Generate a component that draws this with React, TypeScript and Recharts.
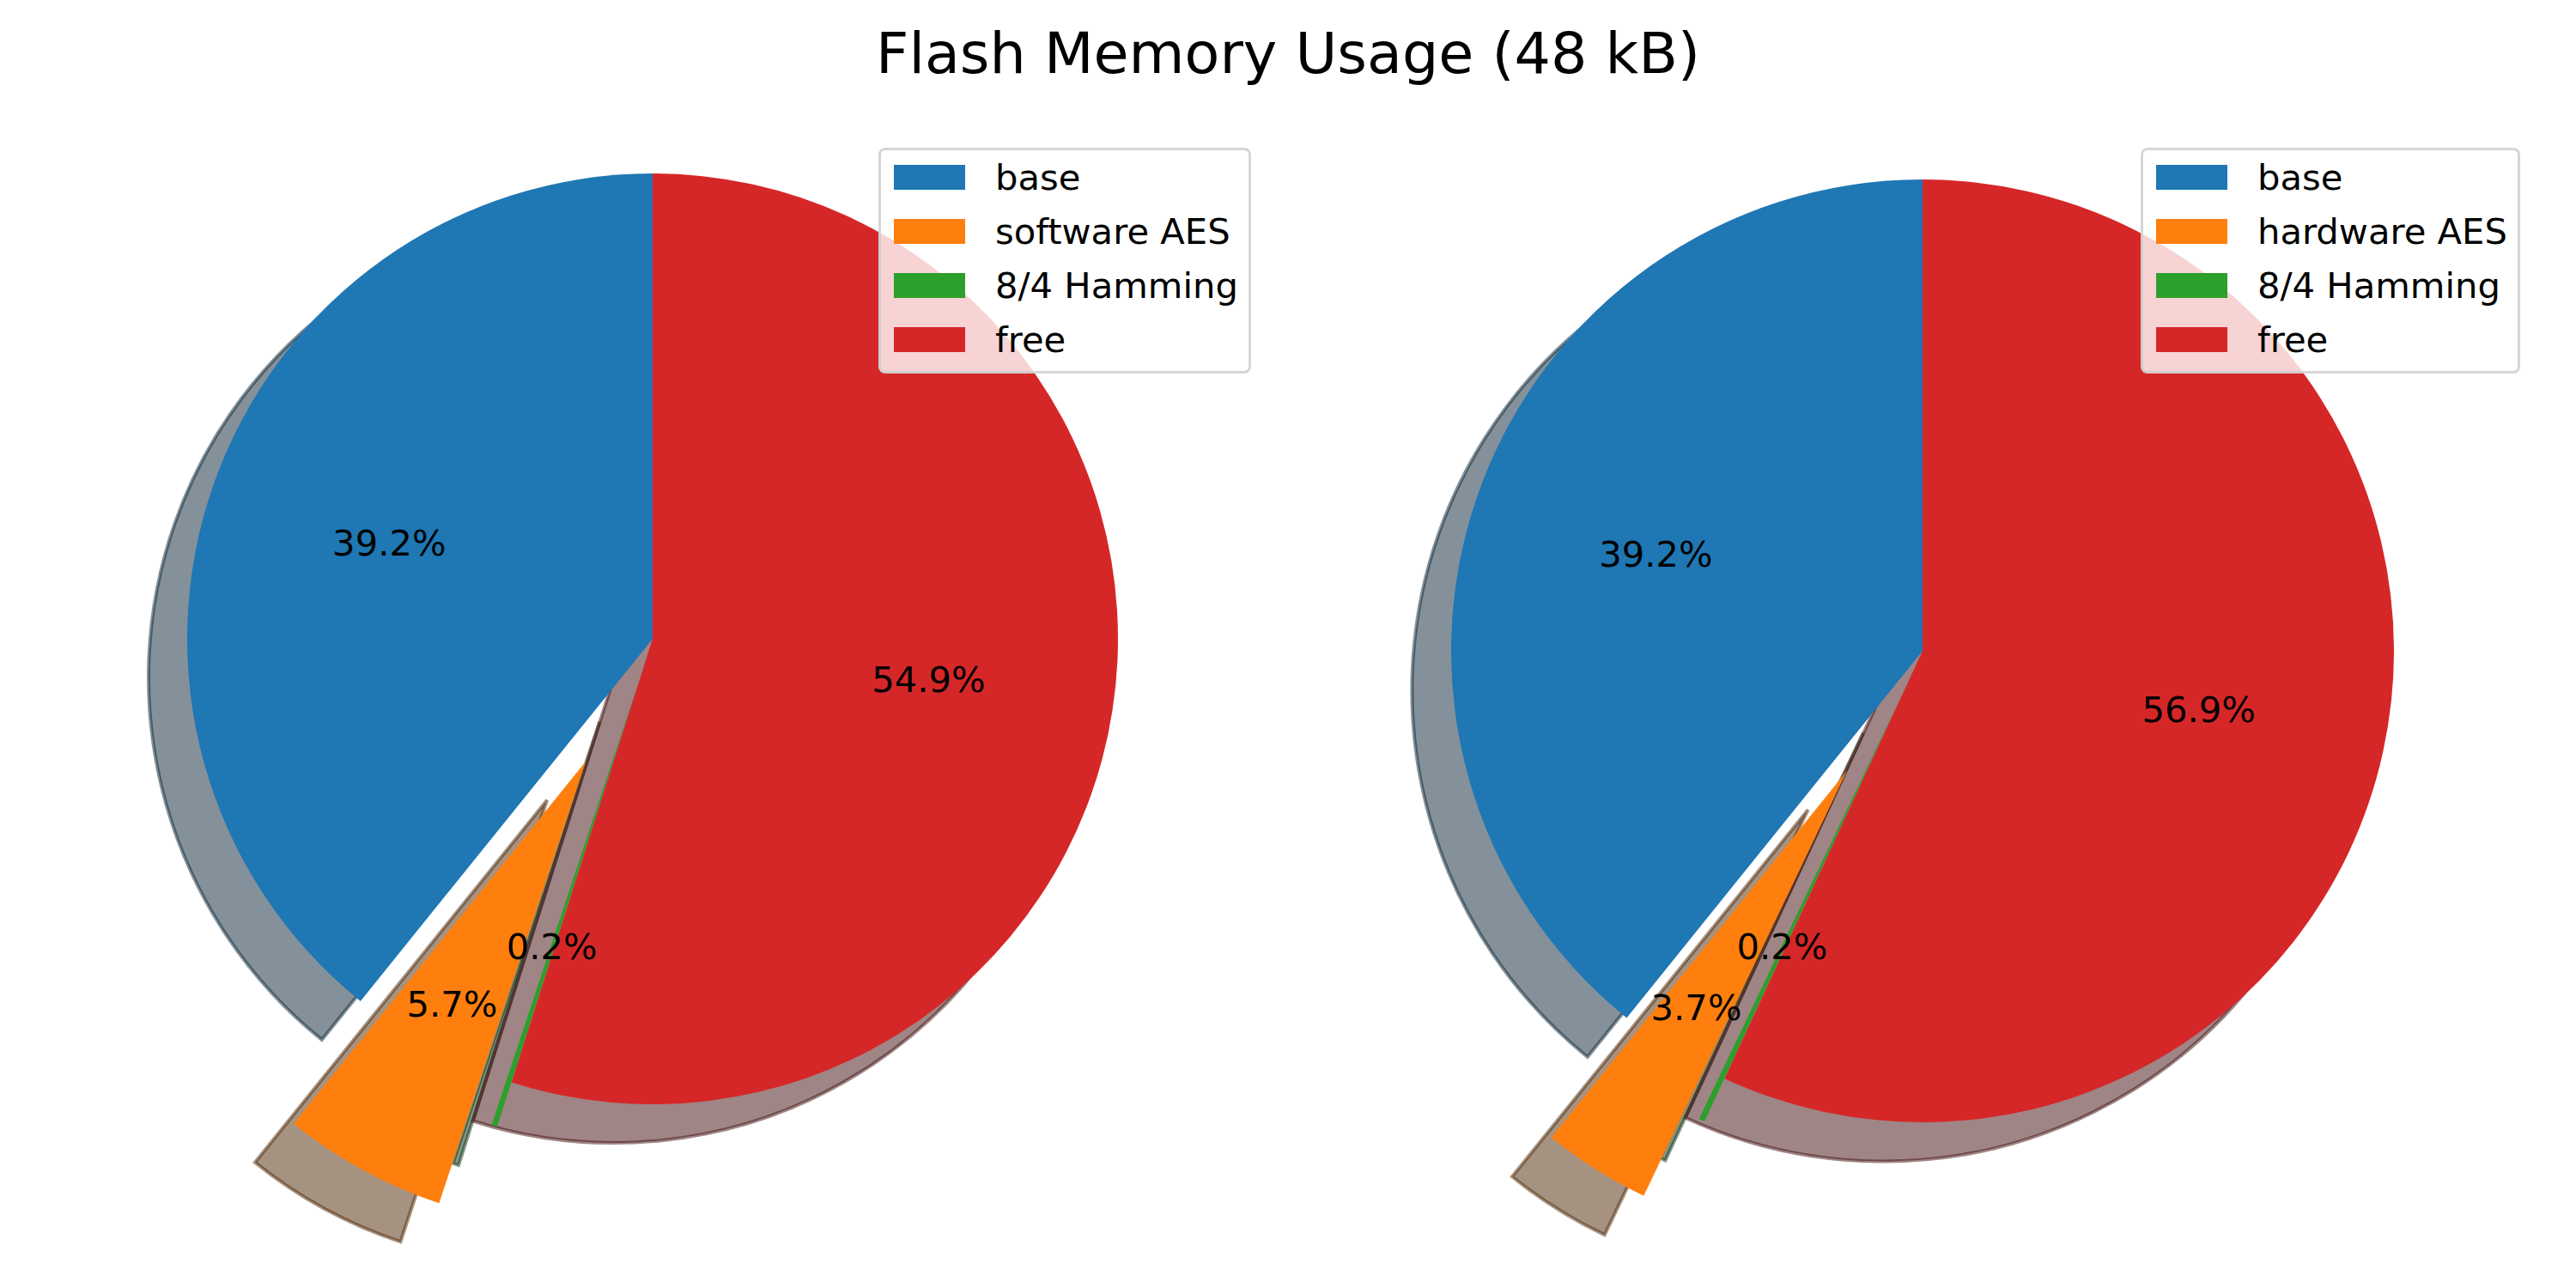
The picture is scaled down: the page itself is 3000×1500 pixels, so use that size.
import React from 'react';
import { PieChart, Pie, Cell, Legend } from 'recharts';

const FONT = '"DejaVu Sans", sans-serif';
const TEXT_SIZE = 41.7;

// share of the 48 kB flash, in percent
const softwareNames = ['base', 'software AES', '8/4 Hamming', 'free'];
const softwareShare = [39.2, 5.7, 0.2, 54.9];
const hardwareNames = ['base', 'hardware AES', '8/4 Hamming', 'free'];
const hardwareShare = [39.2, 3.7, 0.2, 56.9];
const explode = [0, 0.3, 0.1, 0];
const colors = ['#1f77b4', '#ff7f0e', '#2ca02c', '#d62728'];

// matplotlib shadow: 0.3 * face colour, drawn at alpha 0.5
const darken = (hex: string) => {
    const n = parseInt(hex.slice(1), 16);
    const r = Math.round(((n >> 16) & 255) * 0.3);
    const g = Math.round(((n >> 8) & 255) * 0.3);
    const b = Math.round((n & 255) * 0.3);
    return `rgb(${r},${g},${b})`;
};

// offset of an exploded slice along its mid angle
const explodeShift = (values: number[], i: number, radius: number) => {
    const total = values.reduce((a, b) => a + b, 0);
    const before = values.slice(0, i).reduce((a, b) => a + b, 0);
    const mid = ((90 + (360 * (before + values[i] / 2)) / total) * Math.PI) / 180;
    const d = explode[i] * radius;
    return { dx: d * Math.cos(mid), dy: -d * Math.sin(mid) };
};

const renderLabel = (props: any) => {
    const { cx, cy, midAngle, outerRadius, index, percent } = props;
    const r = (explode[index] + 0.6) * outerRadius;
    const rad = (midAngle * Math.PI) / 180;
    return (
        <text
            x={cx + r * Math.cos(rad)}
            y={cy - r * Math.sin(rad) + TEXT_SIZE * 0.28}
            textAnchor="middle"
            fill="#000"
            fontSize={TEXT_SIZE}
            fontFamily={FONT}
        >
            {(percent * 100).toFixed(1)}%
        </text>
    );
};

const LegendBox = ({ payload, order }: any) => {
    const seen = new Set<string>();
    const items = (payload || [])
        .filter((p: any) => {
            if (p.type === 'none' || seen.has(p.value)) return false;
            seen.add(p.value);
            return true;
        })
        .sort((a: any, b: any) => order.indexOf(a.value) - order.indexOf(b.value));
    return (
        <div
            style={{
                width: '100%',
                height: '100%',
                boxSizing: 'border-box',
                background: 'rgba(255,255,255,0.8)',
                border: '3.3px solid rgba(204,204,204,0.8)',
                borderRadius: 8,
                paddingLeft: 15,
                fontFamily: FONT,
                fontSize: TEXT_SIZE,
                color: '#000',
            }}
        >
            {items.map((item: any) => (
                <div key={item.value} style={{ height: 63, display: 'flex', alignItems: 'center' }}>
                    <div style={{ width: 83, height: 29, background: item.color, marginRight: 35 }} />
                    <span style={{ lineHeight: 'normal', whiteSpace: 'nowrap' }}>{item.value}</span>
                </div>
            ))}
        </div>
    );
};

interface PanelProps {
    names: string[];
    values: number[];
    cx: number;
    cy: number;
    radius: number;
    legendLeft: number;
    legendWidth: number;
}

const PiePanel: React.FC<PanelProps> = ({ names, values, cx, cy, radius, legendLeft, legendWidth }) => {
    const data = names.map((name, i) => ({ name, value: values[i] }));
    const shadow = radius * 0.083;

    return (
        <PieChart width={1500} height={1500} margin={{ top: 0, right: 0, bottom: 0, left: 0 }}>
            <Pie
                data={data}
                dataKey="value"
                nameKey="name"
                cx={cx - shadow}
                cy={cy + shadow}
                outerRadius={radius}
                startAngle={90}
                endAngle={450}
                stroke="none"
                legendType="none"
                label={false}
                labelLine={false}
                isAnimationActive={false}
            >
                {data.map((d, i) => {
                    const { dx, dy } = explodeShift(values, i, radius);
                    const c = darken(colors[i]);
                    return (
                        <Cell
                            key={`shadow-${d.name}`}
                            fill={c}
                            fillOpacity={0.5}
                            stroke={c}
                            strokeOpacity={0.5}
                            strokeWidth={4}
                            transform={`translate(${dx},${dy})`}
                        />
                    );
                })}
            </Pie>
            <Pie
                data={data}
                dataKey="value"
                nameKey="name"
                cx={cx}
                cy={cy}
                outerRadius={radius}
                startAngle={90}
                endAngle={450}
                stroke="none"
                label={renderLabel}
                labelLine={false}
                isAnimationActive={false}
            >
                {data.map((d, i) => {
                    const { dx, dy } = explodeShift(values, i, radius);
                    return <Cell key={`slice-${d.name}`} fill={colors[i]} transform={`translate(${dx},${dy})`} />;
                })}
            </Pie>
            <Legend
                layout="vertical"
                align="right"
                verticalAlign="top"
                content={<LegendBox order={names} />}
                wrapperStyle={{ left: legendLeft, top: 172, width: legendWidth, height: 263 }}
            />
        </PieChart>
    );
};

export default function App() {
    return (
        <div style={{ position: 'absolute', left: 0, top: 0, width: 3000, height: 1500, background: '#fff', fontFamily: FONT }}>
            <div style={{ position: 'absolute', left: 0, top: 0 }}>
                <PiePanel names={softwareNames} values={softwareShare} cx={760} cy={744} radius={542} legendLeft={1023} legendWidth={434} />
            </div>
            <div style={{ position: 'absolute', left: 1500, top: 0 }}>
                <PiePanel names={hardwareNames} values={hardwareShare} cx={739} cy={758} radius={549} legendLeft={993} legendWidth={442} />
            </div>
            <div
                style={{
                    position: 'absolute',
                    left: 0,
                    top: 23,
                    width: 3000,
                    textAlign: 'center',
                    fontSize: 66.7,
                    lineHeight: 'normal',
                    color: '#000',
                }}
            >
                Flash Memory Usage (48 kB)
            </div>
        </div>
    );
}
